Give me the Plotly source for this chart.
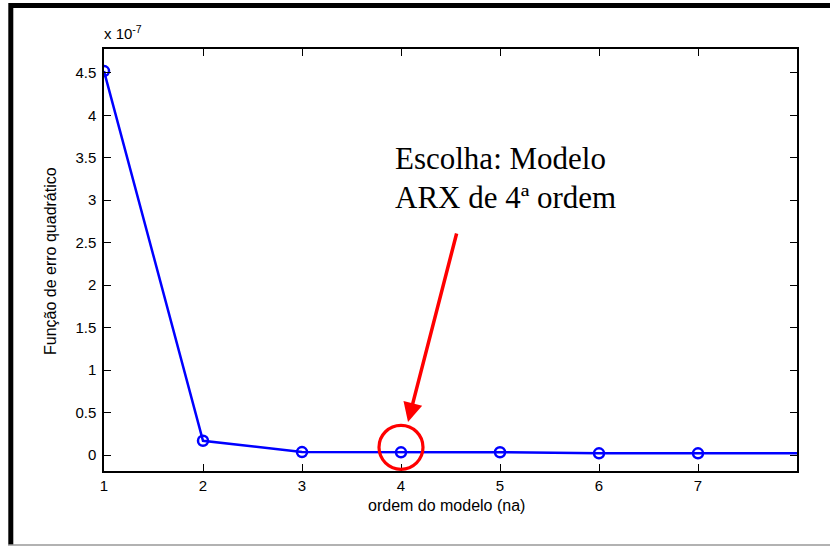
import numpy as np
import plotly.graph_objects as go

# Data (values in units of 1e-7)
ESCALA = 1e-7
na = [1, 2, 3, 4, 5, 6, 7, 8, 9, 10]
erro = np.array([4.52, 0.168, 0.035, 0.032, 0.033, 0.02, 0.02, 0.02, 0.02, 0.02]) * ESCALA
x_ticks = [1, 2, 3, 4, 5, 6, 7]
y_ticks = [0, 0.5, 1, 1.5, 2, 2.5, 3, 3.5, 4, 4.5]
y_ticktext = ["0", "0.5", "1", "1.5", "2", "2.5", "3", "3.5", "4", "4.5"]
escolha_na = 4
X_MAX = 8

W, H = 830, 546
L, R, T, B = 104, 33, 49, 75
pw, ph = W - L - R, H - T - B

def px(x):
    return (x - L) / pw

def py(y):
    return (H - B - y) / ph

SANS = "Liberation Sans, Arial, Helvetica, sans-serif"
SERIF = "Liberation Serif, Times New Roman, serif"

y_plot = erro / ESCALA
visiveis = [i for i, v in enumerate(na) if v < X_MAX]

fig = go.Figure()
fig.add_trace(go.Scatter(
    x=na, y=y_plot, mode="lines",
    line=dict(color="#0000FF", width=2.5),
    showlegend=False, hoverinfo="skip",
))
fig.add_trace(go.Scatter(
    x=[na[i] for i in visiveis], y=[y_plot[i] for i in visiveis], mode="markers",
    marker=dict(symbol="circle-open", size=10, color="#0000FF", line=dict(width=2.5, color="#0000FF")),
    showlegend=False, hoverinfo="x+y",
))

axis_common = dict(
    showgrid=False, zeroline=False, showline=True, linecolor="black", linewidth=1.5,
    mirror="ticks", ticks="inside", ticklen=7, tickcolor="black", tickwidth=1,
    tickfont=dict(family=SANS, size=15, color="black"),
)
fig.update_xaxes(range=[1, X_MAX], tickmode="array", tickvals=x_ticks, ticklabelstandoff=0, **axis_common)
fig.update_yaxes(range=[-0.188, 4.78], tickmode="array", tickvals=y_ticks, ticktext=y_ticktext,
                 ticklabelstandoff=3, **axis_common)

escolha_y = float(y_plot[na.index(escolha_na)])

shapes = [
    # outer frame
    dict(type="line", xref="paper", yref="paper", x0=px(10.8), x1=px(W + 5), y0=py(5.5), y1=py(5.5),
         line=dict(color="black", width=5)),
    dict(type="line", xref="paper", yref="paper", x0=px(10.8), x1=px(10.8), y0=py(3), y1=py(545),
         line=dict(color="black", width=5)),
    dict(type="line", xref="paper", yref="paper", x0=px(8), x1=px(W + 5), y0=py(545), y1=py(545),
         line=dict(color="#999999", width=1.5)),
    # red circle around the chosen model
    dict(type="circle", xref="x", yref="y", xsizemode="pixel", ysizemode="pixel",
         xanchor=escolha_na, yanchor=escolha_y, x0=-22, x1=22, y0=-17, y1=27,
         line=dict(color="#FF0000", width=3.2)),
]

annotations = [
    dict(text="x 10<sup>-7</sup>", xref="paper", yref="paper", x=px(102), y=py(44),
         xanchor="left", yanchor="bottom", showarrow=False,
         font=dict(family=SANS, size=15, color="black")),
    dict(text="Função de erro quadrático", xref="paper", yref="paper", x=px(50), y=py(261),
         xanchor="center", yanchor="middle", textangle=-90, showarrow=False,
         font=dict(family=SANS, size=16, color="black")),
    dict(text="ordem do modelo (na)", xref="paper", yref="paper", x=px(446), y=py(505),
         xanchor="center", yanchor="middle", showarrow=False,
         font=dict(family=SANS, size=16, color="black")),
    dict(text="Escolha: Modelo", xref="paper", yref="paper", x=px(393), y=py(158.5),
         xanchor="left", yanchor="middle", showarrow=False,
         font=dict(family=SERIF, size=31, color="black")),
    dict(text="ARX de 4ª ordem", xref="paper", yref="paper", x=px(393), y=py(197.5),
         xanchor="left", yanchor="middle", showarrow=False,
         font=dict(family=SERIF, size=31, color="black")),
    dict(text="", xref="paper", yref="paper", x=px(408), y=py(422),
         ax=49, ay=-190, axref="pixel", ayref="pixel",
         showarrow=True, arrowhead=2, arrowsize=1.1, arrowwidth=3.5, arrowcolor="#FF0000", standoff=0),
]

fig.update_layout(
    width=W, height=H, margin=dict(l=L, r=R, t=T, b=B),
    paper_bgcolor="white", plot_bgcolor="white",
    shapes=shapes, annotations=annotations,
)
fig.write_html("out.html")
